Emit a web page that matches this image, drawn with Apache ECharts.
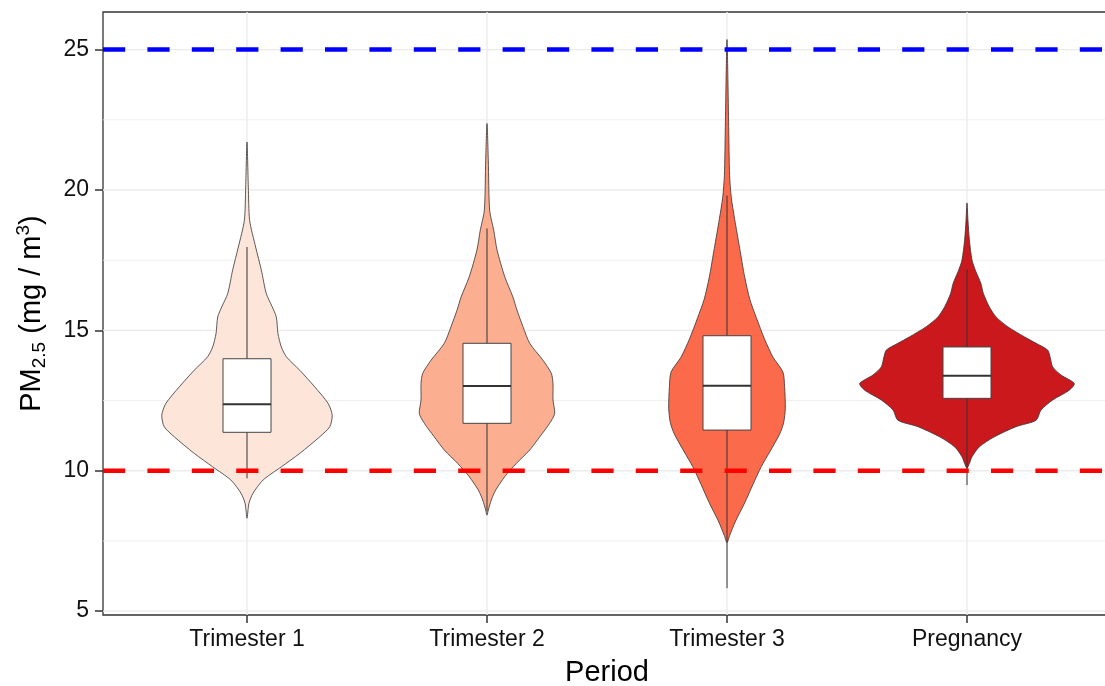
<!DOCTYPE html>
<html><head><meta charset="utf-8">
<script src="https://cdn.jsdelivr.net/npm/echarts@6/dist/echarts.min.js"></script>
<style>html,body{margin:0;padding:0;background:#fff}#c{width:1105px;height:686px}</style>
</head><body><div id="c"></div>
<script>
// ---- data ----
const categories = ['Trimester 1', 'Trimester 2', 'Trimester 3', 'Pregnancy'];
const yTicks = [5, 10, 15, 20, 25];
const yMinorTicks = [7.5, 12.5, 17.5, 22.5];
const thresholdValues = [25, 10];
const thresholdColors = ['#0000FF', '#FF0000'];
const fillColors = ['#FEE5D9', '#FCAE91', '#FB6A4A', '#CB181D'];

// violin profiles: value (bottom -> top) and half width in category units
const t1Y = [8.31, 8.84, 9.20, 9.67, 10.14, 10.62, 11.21, 11.57, 11.98, 12.40, 12.99, 13.58, 14.06, 14.41, 14.89, 15.48, 15.84, 16.32, 17.14, 17.97, 18.92, 20.11, 21.71];
const t1W = [0, 0.008, 0.025, 0.067, 0.143, 0.220, 0.303, 0.345, 0.355, 0.338, 0.282, 0.220, 0.164, 0.143, 0.129, 0.122, 0.105, 0.080, 0.060, 0.036, 0.011, 0.0055, 0];
const t2Y = [8.42, 8.60, 8.96, 9.31, 9.79, 10.26, 10.74, 11.21, 11.69, 12.04, 12.52, 13.11, 13.47, 13.94, 14.54, 15.13, 15.72, 16.19, 16.91, 17.86, 18.57, 19.28, 21.06, 22.37];
const t2W = [0, 0.0055, 0.018, 0.036, 0.074, 0.122, 0.178, 0.220, 0.261, 0.282, 0.275, 0.275, 0.268, 0.233, 0.178, 0.150, 0.125, 0.108, 0.074, 0.042, 0.028, 0.011, 0.0055, 0];
const t3Y = [7.44, 7.69, 8.21, 8.86, 9.51, 10.15, 10.67, 11.32, 11.71, 12.22, 13.00, 13.52, 14.04, 14.68, 15.46, 16.11, 16.89, 17.92, 18.96, 19.73, 20.51, 22.26, 23.88, 25.36];
const t3W = [0, 0.011, 0.036, 0.074, 0.108, 0.143, 0.178, 0.220, 0.236, 0.243, 0.240, 0.233, 0.192, 0.157, 0.122, 0.095, 0.074, 0.053, 0.032, 0.018, 0.011, 0.007, 0.004, 0];
const pregY = [10.09, 10.26, 10.50, 10.85, 11.21, 11.57, 11.80, 12.16, 12.52, 12.87, 13.11, 13.41, 13.70, 14.06, 14.30, 14.54, 14.77, 15.13, 15.48, 15.84, 16.32, 16.67, 17.14, 17.50, 18.21, 18.92, 19.54];
const pregW = [0, 0.010, 0.021, 0.051, 0.114, 0.204, 0.288, 0.308, 0.357, 0.426, 0.447, 0.392, 0.357, 0.346, 0.336, 0.288, 0.239, 0.170, 0.121, 0.093, 0.068, 0.058, 0.035, 0.021, 0.010, 0.004, 0];

// box plot statistics
const whiskerLow  = [9.73, 8.55, 5.82, 9.49];
const q1          = [11.37, 11.69, 11.45, 12.58];
const median      = [12.37, 13.02, 13.03, 13.38];
const q3          = [13.99, 14.54, 14.81, 14.41];
const whiskerHigh = [17.97, 18.63, 19.80, 17.17];

const violinY = [t1Y, t2Y, t3Y, pregY];
const violinW = [t1W, t2W, t3W, pregW];

// ---- chart ----
const FONT = '"Liberation Sans", Arial, Helvetica, sans-serif';
const BOX_HALF = 0.1;
const chart = echarts.init(document.getElementById('c'), null, { renderer: 'canvas' });

function hLineRender(width) {
  return function (params, api) {
    const cs = params.coordSys;
    const y = api.coord([1, api.value(1)])[1];
    return { type: 'line', shape: { x1: cs.x, y1: y, x2: cs.x + cs.width, y2: y },
      style: { stroke: '#EBEBEB', lineWidth: width } };
  };
}

const option = {
  animation: false,
  backgroundColor: '#ffffff',
  grid: { left: 103, top: 12, right: -6, bottom: 71, show: true, borderColor: '#333333', borderWidth: 1.3,
          containLabel: false, outerBoundsMode: 'none' },
  xAxis: {
    type: 'value', min: 0.4, max: 4.6,
    axisLine: { show: false }, splitLine: { show: false },
    axisTick: { show: true, customValues: [1, 2, 3, 4], length: 8, lineStyle: { color: '#333333', width: 1.5 } },
    axisLabel: { customValues: [1, 2, 3, 4], formatter: v => categories[Math.round(v) - 1], fontSize: 23, lineHeight: 23,
                 color: '#111111', margin: 13, fontFamily: FONT },
    name: 'Period', nameLocation: 'middle', nameGap: 40,
    nameTextStyle: { fontSize: 29, lineHeight: 34, color: '#000', fontFamily: FONT }
  },
  yAxis: {
    type: 'value', min: 4.863, max: 26.34,
    axisLine: { show: false }, splitLine: { show: false },
    axisTick: { show: true, customValues: yTicks, length: 8, lineStyle: { color: '#333333', width: 1.5 } },
    axisLabel: { customValues: yTicks, fontSize: 23, color: '#111111', margin: 14, fontFamily: FONT, padding: [3, 0, 0, 0] },
    name: '{t|PM}{sub|2.5}{t| (mg / m}{sup|3}{t|)}', nameLocation: 'middle', nameGap: 54,
    nameTextStyle: {
      color: '#000', fontFamily: FONT, fontSize: 29,
      rich: {
        t: { fontSize: 29, lineHeight: 35, fontFamily: FONT, color: '#000' },
        sub: { fontSize: 19, lineHeight: 19, verticalAlign: 'bottom', fontFamily: FONT, color: '#000' },
        sup: { fontSize: 19, lineHeight: 19, verticalAlign: 'top', fontFamily: FONT, color: '#000' }
      }
    }
  },
  series: [
    { type: 'custom', z: 1, silent: true, data: yMinorTicks.map(v => [1, v]), renderItem: hLineRender(0.8) },
    { type: 'custom', z: 1, silent: true, data: yTicks.map(v => [1, v]), renderItem: hLineRender(1.4) },
    { type: 'custom', z: 1, silent: true, data: categories.map((c, i) => [i + 1, 10]),
      renderItem: function (params, api) {
        const cs = params.coordSys;
        const x = api.coord([api.value(0), 10])[0];
        return { type: 'line', shape: { x1: x, y1: cs.y, x2: x, y2: cs.y + cs.height },
          style: { stroke: '#EBEBEB', lineWidth: 1.4 } };
      } },
    { type: 'custom', z: 3, silent: true, data: categories.map((c, i) => [i + 1, median[i]]),
      renderItem: function (params, api) {
        const i = params.dataIndex; const cx = api.value(0);
        const ys = violinY[i], ws = violinW[i];
        const pts = [];
        for (let k = 0; k < ys.length; k++) pts.push(api.coord([cx + ws[k], ys[k]]));
        for (let k = ys.length - 2; k >= 1; k--) pts.push(api.coord([cx - ws[k], ys[k]]));
        const pLo = api.coord([cx, whiskerLow[i]]), pHi = api.coord([cx, whiskerHigh[i]]);
        const b1 = api.coord([cx - BOX_HALF, q3[i]]), b2 = api.coord([cx + BOX_HALF, q1[i]]);
        const m1 = api.coord([cx - BOX_HALF, median[i]]), m2 = api.coord([cx + BOX_HALF, median[i]]);
        return { type: 'group', children: [
          { type: 'polygon', shape: { points: pts, smooth: 0.25 }, style: { fill: fillColors[i], stroke: '#333333', lineWidth: 0.8 } },
          { type: 'line', shape: { x1: pLo[0], y1: pLo[1], x2: pHi[0], y2: pHi[1] }, style: { stroke: '#333333', lineWidth: 1 } },
          { type: 'rect', shape: { x: b1[0], y: b1[1], width: b2[0] - b1[0], height: b2[1] - b1[1] }, style: { fill: '#ffffff', stroke: '#444444', lineWidth: 1 } },
          { type: 'line', shape: { x1: m1[0], y1: m1[1], x2: m2[0], y2: m2[1] }, style: { stroke: '#333333', lineWidth: 2 } }
        ] };
      } },
    { type: 'custom', z: 5, silent: true, data: thresholdValues.map(v => [1, v]),
      renderItem: function (params, api) {
        const cs = params.coordSys;
        const y = api.coord([1, api.value(1)])[1];
        return { type: 'line', shape: { x1: cs.x, y1: y, x2: cs.x + cs.width, y2: y },
          style: { stroke: thresholdColors[params.dataIndex], lineWidth: 4.5, lineDash: [22.2, 22.2], lineDashOffset: 0 } };
      } }
  ]
};
chart.setOption(option);
</script>
</body></html>
